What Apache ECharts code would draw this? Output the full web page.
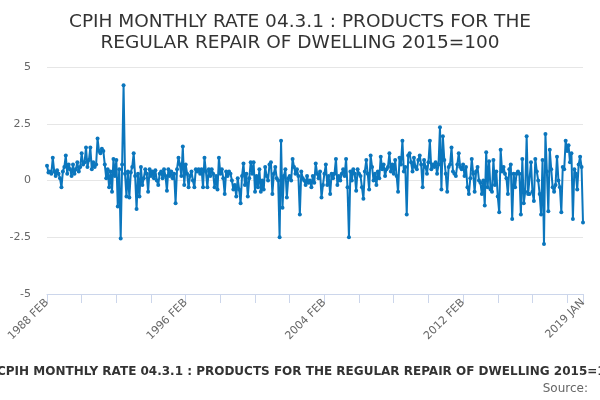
<!DOCTYPE html>
<html>
<head>
<meta charset="utf-8">
<script src="https://cdn.jsdelivr.net/npm/echarts@6/dist/echarts.min.js"></script>
<style>
html, body { margin: 0; padding: 0; background: #fff; }
#chart { width: 600px; height: 400px; }
</style>
</head>
<body>
<div id="chart"></div>
<script>
// ==========================================
// DATA (monthly rate, 1988 FEB .. 2019 JAN, one row per 12 months)
// ==========================================
const startYear = 1988;
const startMonth = 1; // FEB (0-based)
const monthNames = ['JAN', 'FEB', 'MAR', 'APR', 'MAY', 'JUN', 'JUL', 'AUG', 'SEP', 'OCT', 'NOV', 'DEC'];

const rates = [
  0.65, 0.35, 0.4, 0.3, 1.0, 0.4, 0.2, 0.45, 0.3, 0.1, -0.3, 0.4,
  0.6, 1.1, 0.3, 0.7, 0.5, 0.2, 0.7, 0.3, 0.5, 0.8, 0.4, 0.6,
  1.2, 0.7, 0.8, 1.45, 0.6, 0.9, 1.45, 0.5, 0.8, 0.6, 0.7, 1.85,
  1.3, 1.2, 1.4, 1.3, 0.7, 0.1, 0.5, -0.3, 0.4, -0.5, 0.95, 0.2,
  0.9, -1.15, 0.5, -2.55, 0.7, 4.2, 0.3, -0.7, 0.4, -0.75, 0.35, 0.6,
  1.2, 0.2, -1.25, 0.3, -0.7, 0.6, -0.2, 0.1, 0.5, 0.3, -0.5, 0.5,
  0.2, 0.4, 0.1, 0.45, 0.0, -0.2, 0.3, 0.4, 0.1, 0.5, 0.2, -0.45,
  0.5, 0.2, 0.4, 0.1, 0.3, -1.0, 0.5, 1.0, 0.7, 0.2, 1.5, -0.2,
  0.7, 0.3, -0.3, 0.2, 0.4, 0.0, -0.3, 0.5, 0.4, 0.5, 0.3, 0.5,
  -0.3, 1.0, 0.4, -0.3, 0.5, 0.2, 0.5, 0.3, -0.3, 0.2, -0.4, 1.0,
  0.3, 0.5, 0.1, -0.6, 0.4, 0.2, 0.4, 0.3, 0.0, -0.4, -0.2, -0.7,
  0.1, -0.4, -1.0, 0.2, 0.75, -0.2, 0.3, -0.7, 0.1, 0.8, 0.3, 0.8,
  -0.5, 0.2, -0.3, 0.5, -0.5, 0.0, -0.4, 0.6, 0.2, 0.0, 0.7, 0.8,
  -0.6, 0.3, 0.6, 0.1, 0.0, -2.5, 1.75, -1.2, 0.2, 0.5, -0.75, 0.1,
  0.2, 0.0, 0.95, 0.6, 0.3, 0.5, 0.2, -1.5, 0.4, 0.1, 0.0, -0.2,
  0.2, -0.1, 0.0, -0.3, 0.2, -0.1, 0.75, 0.3, 0.1, 0.4, -0.75, -0.2,
  0.3, 0.7, -0.2, 0.2, -0.6, 0.3, 0.1, 0.3, 0.95, -0.2, 0.2, 0.0,
  0.3, 0.5, 0.2, 0.95, -0.3, -2.5, 0.4, 0.0, 0.5, 0.3, -0.45, 0.5,
  0.3, 0.2, -0.3, -0.8, 0.4, 0.9, 0.3, -0.4, 1.1, 0.6, 0.0, 0.3,
  -0.2, 0.4, 0.1, 1.05, 0.5, 0.7, 0.2, 0.5, 0.6, 1.2, 0.4, 0.7,
  0.3, 0.9, 0.2, -0.5, 1.0, 0.7, 1.75, 0.4, 0.6, -1.5, 1.1, 1.2,
  0.8, 0.4, 1.0, 0.6, 0.5, 0.9, 1.1, 0.7, -0.3, 0.9, 0.6, 0.3,
  0.8, 1.75, 0.5, 0.7, 0.6, 0.8, 0.3, 0.7, 2.35, -0.4, 1.95, 0.9,
  0.3, -0.5, 0.6, 0.7, 1.45, 0.4, 0.3, 0.2, 0.7, 1.2, 0.6, 0.5,
  0.7, 0.2, 0.6, -0.3, -0.6, 0.1, 0.95, 0.3, -0.5, 0.4, 0.6, 0.0,
  -0.1, -0.6, 0.0, -1.1, 1.25, -0.3, 0.85, -0.4, -0.5, 0.9, -0.2, 0.4,
  -0.7, -1.4, 1.35, 0.4, 0.6, 0.3, 0.1, -0.6, 0.5, 0.7, -1.7, 0.3,
  -0.3, 0.3, 0.4, 0.3, -1.5, 0.95, -1.0, -0.5, 1.95, -0.6, -0.6, 0.8,
  -0.5, -0.9, 0.95, 0.4, 0.0, -0.6, -1.5, 0.9, -2.8, 2.05, 0.4, -1.35,
  1.35, 0.5, -0.3, -0.5, -0.2, 1.05, 0.0, -0.3, -1.4, 0.6, 0.5, 1.75,
  1.3, 1.55, 0.8, 1.2, -1.7, 0.5, 0.3, -0.4, 0.7, 1.05, 0.6, -1.85
];

// category labels, one per month
const months = rates.map((v, i) => {
  const m = startMonth + i;
  return (startYear + Math.floor(m / 12)) + ' ' + monthNames[m % 12];
});

const titleText = 'CPIH MONTHLY RATE 04.3.1 : PRODUCTS FOR THE\nREGULAR REPAIR OF DWELLING 2015=100';
const footText = 'CPIH MONTHLY RATE 04.3.1 : PRODUCTS FOR THE REGULAR REPAIR OF DWELLING 2015=100';

const lastIdx = rates.length - 1;
// label every 8 years, tick every 2 years, both also on the last month
const showLabel = (idx) => idx % 96 === 0 || idx === lastIdx;
const showTick = (idx) => idx % 24 === 0 || idx === lastIdx;

// ==========================================
// CHART
// ==========================================
const chart = echarts.init(document.getElementById('chart'), null, { renderer: 'canvas' });

const option = {
  backgroundColor: '#fff',
  animation: false,
  title: {
    text: titleText,
    left: 'center',
    top: 7,
    textStyle: {
      fontFamily: 'DejaVu Sans',
      fontSize: 18.5,
      fontWeight: 'normal',
      color: '#333',
      lineHeight: 21
    }
  },
  grid: { left: 47, right: 17, top: 67, bottom: 106 },
  xAxis: {
    type: 'category',
    data: months,
    boundaryGap: false,
    axisLine: { onZero: false, lineStyle: { color: '#ccd6eb' } },
    axisTick: { interval: showTick, length: 9, lineStyle: { color: '#ccd6eb' } },
    axisLabel: {
      interval: showLabel,
      rotate: 45,
      color: '#666',
      fontFamily: 'DejaVu Sans',
      fontSize: 11,
      margin: 7
    },
    splitLine: { show: false }
  },
  yAxis: {
    type: 'value',
    min: -5,
    max: 5,
    interval: 2.5,
    axisLine: { show: false },
    axisTick: { show: false },
    axisLabel: { color: '#666', fontFamily: 'DejaVu Sans', fontSize: 11, margin: 16 },
    splitLine: { lineStyle: { color: '#e6e6e6' } }
  },
  series: [{
    type: 'line',
    data: rates,
    symbol: 'circle',
    symbolSize: 4,
    showSymbol: true,
    showAllSymbol: true,
    lineStyle: { color: '#0b76bd', width: 2 },
    itemStyle: { color: '#0b76bd' }
  }],
  graphic: [
    {
      type: 'text',
      left: -3,
      top: 366,
      style: {
        text: footText,
        fontFamily: 'DejaVu Sans',
        fontSize: 12,
        fontWeight: 'bold',
        fill: '#333'
      }
    },
    {
      type: 'text',
      right: 12,
      top: 383,
      style: {
        text: 'Source:',
        fontFamily: 'DejaVu Sans',
        fontSize: 12,
        fill: '#666'
      }
    }
  ]
};

chart.setOption(option);
</script>
</body>
</html>
